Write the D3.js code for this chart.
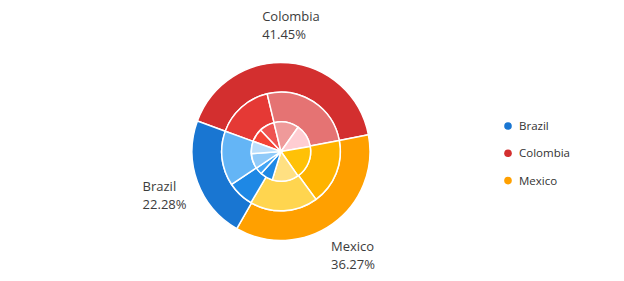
<!DOCTYPE html>
<html>
<head>
<meta charset="utf-8">
<script src="https://cdn.jsdelivr.net/npm/d3@7"></script>
<style>
  body { margin: 0; background: #fff; }
  text { font-family: "Open Sans", sans-serif; fill: #3c3c3c; }
</style>
</head>
<body>
<svg id="chart"></svg>
<script>
// legend / outer ring countries
var countries = ["Brazil", "Colombia", "Mexico"];
var countryShares = [22.28, 41.45, 36.27];

// order the slices go round the rings, clockwise
var ringOrder = ["Colombia", "Mexico", "Brazil"];

// middle ring (percent of the ring)
var middleCountry = ["Colombia", "Colombia", "Mexico", "Mexico", "Brazil", "Brazil"];
var middleValues = [15.7, 25.8, 17.9, 18.5, 7.2, 14.9];

// inner ring
var innerCountry = ["Colombia", "Colombia", "Colombia", "Colombia", "Mexico", "Mexico",
                    "Brazil", "Brazil", "Brazil", "Brazil"];
var innerValues = [7.4, 8.2, 13.6, 12.5, 18.1, 14.4, 6.9, 3.9, 8.3, 6.7];

// colours
var outerColors = { Brazil: "#1976D2", Colombia: "#D32F2F", Mexico: "#FFA000" };
var middleColors = ["#E53935", "#E57373", "#FFB300", "#FFD54F", "#1E88E5", "#64B5F6"];
var innerColors = ["#F44336", "#EF5350", "#EF9A9A", "#FFCDD2", "#FFC107", "#FFE082",
                   "#1E88E5", "#42A5F5", "#90CAF9", "#BBDEFB"];

var screen = { width: 624, height: 281 };
var center = { x: 281, y: 151.5 };
var radius = 89;
var start = -70 * Math.PI / 180;

var svg = d3.select("#chart")
    .attr("width", screen.width)
    .attr("height", screen.height);

var target = svg.append("g")
    .attr("transform", "translate(" + center.x + "," + center.y + ")");

var pie = d3.pie()
    .sort(null)
    .startAngle(start)
    .endAngle(start + 2 * Math.PI)
    .value(function(d) { return d.value; });

var ringWidth = radius / 3;

var drawRing = function(data, inner, outer, colorOf)
{
    var arc = d3.arc().innerRadius(inner).outerRadius(outer);
    target.append("g")
        .selectAll("path")
        .data(pie(data))
        .enter()
        .append("path")
        .attr("d", arc)
        .attr("fill", function(d, i) { return colorOf(d, i); })
        .attr("stroke", "#fff")
        .attr("stroke-width", 1.5)
        .attr("stroke-linejoin", "round");
}

// outer ring
var outerData = ringOrder.map(function(c) {
    return { name: c, value: countryShares[countries.indexOf(c)] };
});
drawRing(outerData, 2 * ringWidth, radius, function(d) { return outerColors[d.data.name]; });

// middle ring
var middleData = middleValues.map(function(v, i) { return { name: middleCountry[i], value: v }; });
drawRing(middleData, ringWidth, 2 * ringWidth, function(d, i) { return middleColors[i]; });

// inner ring
var innerData = innerValues.map(function(v, i) { return { name: innerCountry[i], value: v }; });
drawRing(innerData, 0, ringWidth, function(d, i) { return innerColors[i]; });

// labels on the outer slices
var labelRx = 124, labelRy = 127;
var labels = svg.append("g").classed("labels", true);
pie(outerData).forEach(function(d)
{
    var mid = (d.startAngle + d.endAngle) / 2;
    var cx = center.x + labelRx * Math.sin(mid);
    var cy = center.y - labelRy * Math.cos(mid);
    var g = labels.append("g");
    var t1 = g.append("text").text(d.data.name)
        .style("font-size", "13px");
    var t2 = g.append("text").text(d.data.value.toFixed(2) + "%")
        .style("font-size", "13px");
    var w = Math.max(t1.node().getComputedTextLength(), t2.node().getComputedTextLength());
    t1.attr("x", cx - w / 2).attr("y", cy - 4);
    t2.attr("x", cx - w / 2).attr("y", cy + 14);
});

// legend
var legend = svg.append("g")
    .classed("legend", true)
    .attr("transform", "translate(508,126)");

var entries = legend.selectAll("g")
    .data(countries)
    .enter()
    .append("g")
    .attr("transform", function(d, i) { return "translate(0," + (i * 27.3) + ")"; });

entries.append("circle")
    .attr("r", 3.8)
    .attr("fill", function(d) { return outerColors[d]; });

entries.append("text")
    .text(function(d) { return d; })
    .attr("x", 11)
    .attr("y", 4)
    .style("font-size", "11.5px")
    .style("fill", "#333");
</script>
</body>
</html>
